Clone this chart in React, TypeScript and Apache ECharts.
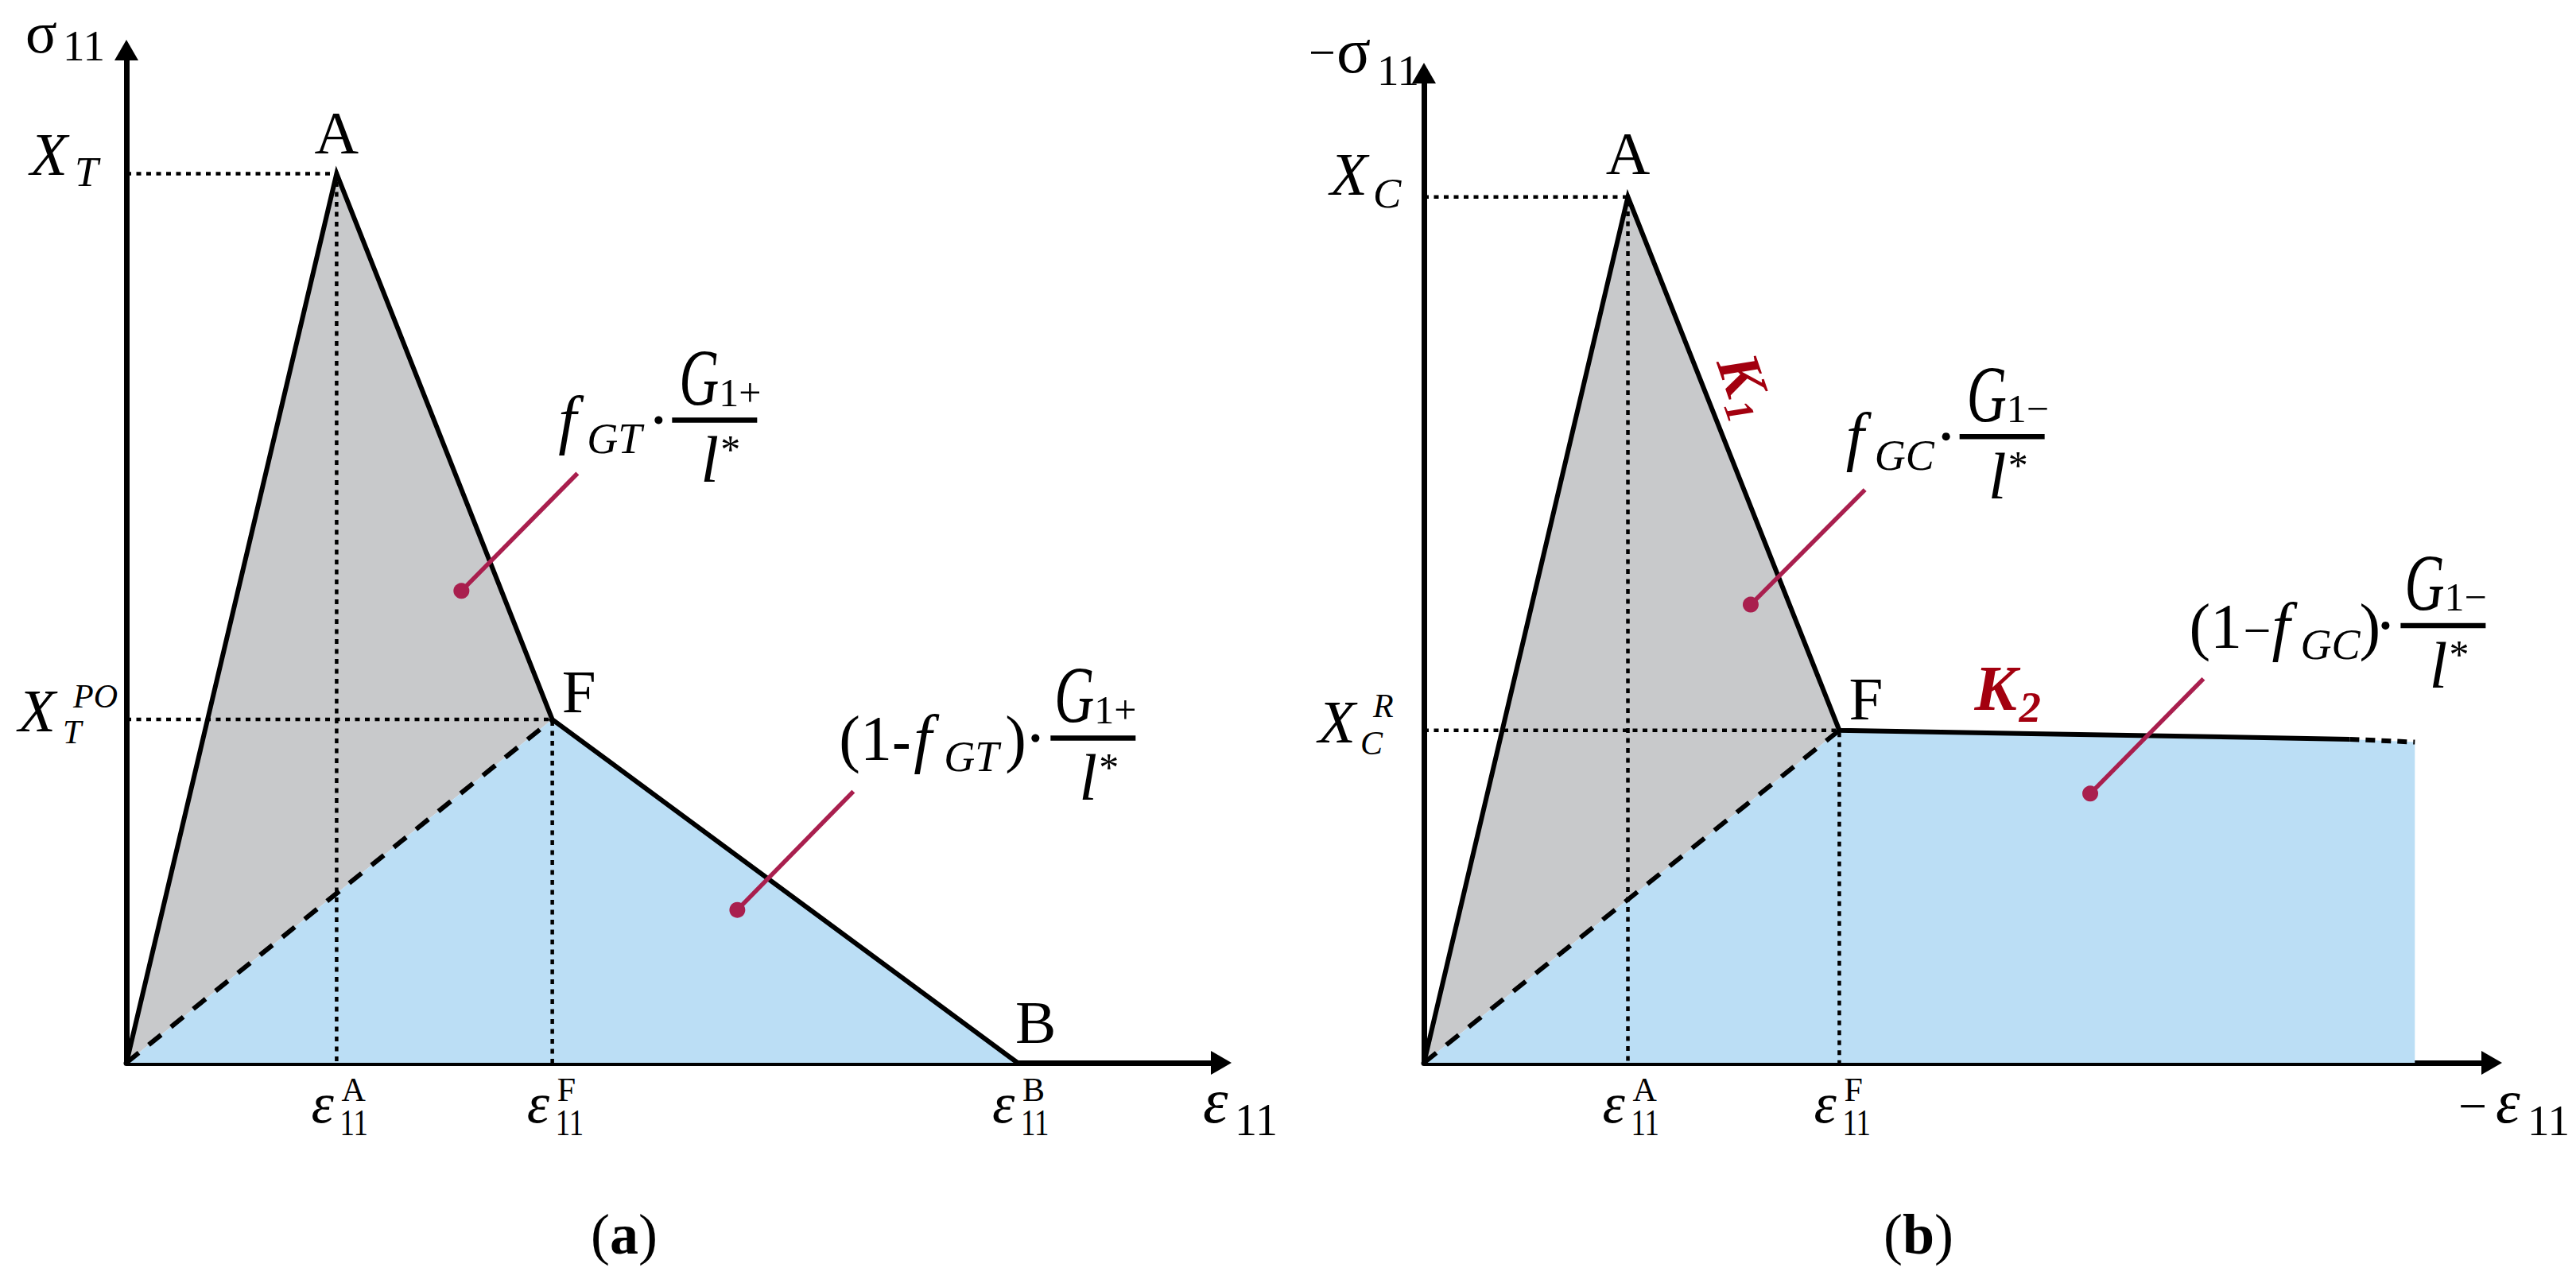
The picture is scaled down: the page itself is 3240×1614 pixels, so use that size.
import React, { useEffect, useRef } from "react";
import * as echarts from "echarts";

const SERIF = '"Liberation Serif", "Times New Roman", serif';
const GREY = "#c8c9cb";
const BLUE = "#bbdef5";
const LEADER = "#a91f4e";
const KRED = "#a3000f";

const axisMax = 10;

// (a) tension: O, A, F, B  (strain, stress)
const tensionStrain = [0, 1.92, 3.89, 8.14];
const tensionStress = [0, 8.78, 3.39, 0];
const tensionDots = [[3.06, 4.66], [5.58, 1.51]];
const tensionLeaderEnds = [[4.12, 5.82], [6.64, 2.68]];

// (b) compression: O, A, F, end of solid K2 segment, end of dashed segment
const compStrain = [0, 1.91, 3.89, 8.67, 9.28];
const compStress = [0, 8.75, 3.36, 3.27, 3.24];
const compDots = [[3.06, 4.63], [6.24, 2.72]];
const compLeaderEnds = [[4.13, 5.79], [7.3, 3.88]];

const pts = (xs: number[], ys: number[]) => xs.map((x, i) => [x, ys[i]]);

function T(text: string, left: number, baseline: number, size: number, o: any = {}) {
  return {
    type: "text",
    x: left,
    y: baseline - 0.34 * size,
    scaleX: o.sx ?? 1,
    silent: true,
    style: {
      text,
      fontSize: size,
      fontFamily: SERIF,
      fontStyle: o.it ? "italic" : "normal",
      fontWeight: o.b ? "bold" : "normal",
      fill: o.fill || "#000",
      align: o.align || "left",
      verticalAlign: "middle",
    },
  };
}
const dotC = (cx: number, cy: number, r: number, fill: string) => ({
  type: "circle", silent: true, shape: { cx, cy, r }, style: { fill },
});
const seg = (x1: number, y1: number, x2: number, y2: number, w: number, stroke: string) => ({
  type: "line", silent: true, shape: { x1, y1, x2, y2 }, style: { stroke, lineWidth: w },
});
const Gsym = (left: number, baseline: number) => T("G", left, baseline, 102, { it: true, sx: 0.68 });

function inlineFormula(ax: number, ay: number, sub: string, numSub: string) {
  return [
    T("f", ax - 24, ay - 40, 82, { it: true }),
    T(sub, ax + 12, ay - 25, 54, { it: true }),
    dotC(ax + 102, ay - 67, 5, "#000"),
    seg(ax + 119, ay - 67, ax + 226, ay - 67, 6.5, "#000"),
    Gsym(ax + 128, ay - 85),
    T(numSub, ax + 178, ay - 85, 50),
    T("l", ax + 155, ay + 11, 82, { it: true }),
    T("*", ax + 180, ay - 14, 50),
  ];
}
function parenFormula(ax: number, ay: number, sub: string, numSub: string, minus: boolean) {
  return [
    T("(1", ax - 18, ay - 39, 80),
    minus ? T("−", ax + 50, ay - 40, 62) : T("-", ax + 49, ay - 39, 70, { b: true }),
    T("f", ax + (minus ? 86 : 76), ay - 39, 82, { it: true }),
    T(sub, ax + (minus ? 122 : 114), ay - 25, 54, { it: true }),
    T(")", ax + (minus ? 196 : 191), ay - 39, 80),
    dotC(ax + 229, ay - 67, 5, "#000"),
    seg(ax + 248, ay - 67, ax + 355, ay - 67, 6.5, "#000"),
    Gsym(ax + 253, ay - 86),
    T(numSub, ax + 303, ay - 86, 50),
    T("l", ax + 284, ay + 11, 82, { it: true }),
    T("*", ax + 309, ay - 14, 50),
  ];
}
function epsTick(x: number, y0: number, sup: string) {
  return [
    T("ε", x - 32, y0 + 75, 72, { it: true }),
    T("11", x + 4, y0 + 91, 46, { sx: 0.8 }),
    T(sup, x + 6, y0 + 48, 42),
  ];
}
function caption(cx: number, baseline: number, letter: string) {
  return {
    type: "text", x: cx, y: baseline - 0.34 * 72, silent: true,
    style: {
      text: "{p|(}{b|" + letter + "}{p|)}",
      fontSize: 72, fontFamily: SERIF, fill: "#000", align: "center", verticalAlign: "middle",
      rich: {
        p: { fontSize: 72, fontFamily: SERIF, fill: "#000" },
        b: { fontSize: 72, fontFamily: SERIF, fontWeight: "bold", fill: "#000" },
      },
    },
  };
}

function polygonSeries(g: number, verts: number[][], fill: string) {
  return {
    type: "custom", coordinateSystem: "cartesian2d", xAxisIndex: g, yAxisIndex: g,
    data: [verts[0]], silent: true, z: 1, clip: false,
    renderItem: (_p: any, api: any) => ({
      type: "polygon", shape: { points: verts.map((v) => api.coord(v)) }, style: { fill },
    }),
  };
}
function lineSeries(g: number, data: number[][], width: number, type: any, z: number) {
  return {
    type: "line", xAxisIndex: g, yAxisIndex: g, data, symbol: "none", silent: true, z, clip: false,
    lineStyle: { color: "#000", width, type, cap: "butt", join: "miter" },
  };
}
function axis(g: number) {
  return {
    type: "value", gridIndex: g, min: 0, max: axisMax,
    axisLine: { show: true, symbol: ["none", "triangle"], symbolSize: [30, 26], lineStyle: { color: "#000", width: 7 } },
    axisTick: { show: false }, axisLabel: { show: false }, splitLine: { show: false },
  };
}

const DOT = [6, 6.5];

export default function App() {
  const ref = useRef<HTMLDivElement>(null);
  useEffect(() => {
    document.body.style.margin = "0";
    const chart = echarts.init(ref.current!, null, { renderer: "svg" });
    const tP = pts(tensionStrain, tensionStress);
    const cP = pts(compStrain, compStress);
    const [tO, tA, tF, tB] = tP;
    const [cO, cA, cF, cS, cE] = cP;

    const labelsA = {
      type: "custom", coordinateSystem: "cartesian2d", xAxisIndex: 0, yAxisIndex: 0,
      data: [[0, 0]], silent: true, z: 5, clip: false,
      renderItem: (_p: any, api: any) => {
        const c = (p: number[]) => api.coord(p);
        const O = c(tO), A = c(tA), F = c(tF), B = c(tB);
        const top = c([0, axisMax]), xe = c([axisMax, 0]);
        const ch: any[] = [];
        tensionDots.forEach((d, i) => {
          const p = c(d), q = c(tensionLeaderEnds[i]);
          ch.push(seg(p[0], p[1], q[0], q[1], 5.5, LEADER), dotC(p[0], p[1], 10, LEADER));
        });
        const e1 = c(tensionLeaderEnds[0]), e2 = c(tensionLeaderEnds[1]);
        ch.push(...inlineFormula(e1[0], e1[1], "GT", "1+"));
        ch.push(...parenFormula(e2[0], e2[1], "GT", "1+", false));
        ch.push(T("σ", top[0] - 127, top[1] + 3, 74), T("11", top[0] - 80, top[1] + 13, 55));
        ch.push(T("X", O[0] - 121, A[1] + 2, 77, { it: true }), T("T", O[0] - 65, A[1] + 16, 53, { it: true }));
        ch.push(T("X", O[0] - 136, F[1] + 15, 77, { it: true }), T("T", O[0] - 80, F[1] + 30, 42, { it: true }), T("PO", O[0] - 67, F[1] - 15, 42, { it: true }));
        ch.push(T("A", A[0], A[1] - 25, 77, { align: "center" }));
        ch.push(T("F", F[0] + 12, F[1] - 9, 77));
        ch.push(T("B", B[0] - 3, B[1] - 25, 77));
        ch.push(...epsTick(A[0], O[1], "A"), ...epsTick(F[0], O[1], "F"), ...epsTick(B[0], O[1], "B"));
        ch.push(T("ε", xe[0] - 23, O[1] + 75, 80, { it: true }), T("11", xe[0] + 17, O[1] + 91, 56));
        ch.push(caption(O[0] + 626, O[1] + 240, "a"));
        return { type: "group", children: ch };
      },
    };

    const labelsB = {
      type: "custom", coordinateSystem: "cartesian2d", xAxisIndex: 1, yAxisIndex: 1,
      data: [[0, 0]], silent: true, z: 5, clip: false,
      renderItem: (_p: any, api: any) => {
        const c = (p: number[]) => api.coord(p);
        const O = c(cO), A = c(cA), F = c(cF);
        const top = c([0, axisMax]), xe = c([axisMax, 0]);
        const ch: any[] = [];
        compDots.forEach((d, i) => {
          const p = c(d), q = c(compLeaderEnds[i]);
          ch.push(seg(p[0], p[1], q[0], q[1], 5.5, LEADER), dotC(p[0], p[1], 10, LEADER));
        });
        const e1 = c(compLeaderEnds[0]), e2 = c(compLeaderEnds[1]);
        ch.push(...inlineFormula(e1[0], e1[1], "GC", "1−"));
        ch.push(...parenFormula(e2[0], e2[1], "GC", "1−", true));
        ch.push(T("−", top[0] - 145, top[1] - 6, 60), T("σ", top[0] - 110, top[1] - 1, 80), T("11", top[0] - 59, top[1] + 15, 55));
        ch.push(T("X", O[0] - 118, A[1] - 2, 77, { it: true }), T("C", O[0] - 64, A[1] + 13, 53, { it: true }));
        ch.push(T("X", O[0] - 133, F[1] + 15, 77, { it: true }), T("C", O[0] - 80, F[1] + 31, 42, { it: true }), T("R", O[0] - 64, F[1] - 16, 42, { it: true }));
        ch.push(T("A", A[0], A[1] - 28, 77, { align: "center" }));
        ch.push(T("F", F[0] + 12, F[1] - 14, 77));
        ch.push({
          type: "group", x: A[0] + 144, y: A[1] + 224, rotation: -1.24, silent: true,
          children: [
            { type: "text", x: 0, y: 0, style: { text: "K", fontSize: 76, fontStyle: "italic", fontWeight: "bold", fontFamily: SERIF, fill: KRED, align: "center", verticalAlign: "middle" } },
            { type: "text", x: 42, y: 18, style: { text: "1", fontSize: 50, fontStyle: "italic", fontWeight: "bold", fontFamily: SERIF, fill: KRED, align: "center", verticalAlign: "middle" } },
          ],
        });
        ch.push(T("K", F[0] + 170, F[1] - 25, 80, { it: true, b: true, fill: KRED }), T("2", F[0] + 226, F[1] - 10, 55, { it: true, b: true, fill: KRED }));
        ch.push(...epsTick(A[0], O[1], "A"), ...epsTick(F[0], O[1], "F"));
        ch.push(T("−", xe[0] - 42, O[1] + 76, 64), T("ε", xe[0] + 5, O[1] + 75, 78, { it: true }), T("11", xe[0] + 45, O[1] + 91, 55));
        ch.push(caption(O[0] + 622, O[1] + 240, "b"));
        return { type: "group", children: ch };
      },
    };

    chart.setOption({
      animation: false,
      backgroundColor: "#fff",
      grid: [
        { left: 159, top: 63, width: 1377, height: 1274 },
        { left: 1791, top: 92, width: 1343, height: 1245 },
      ],
      xAxis: [axis(0), axis(1)],
      yAxis: [axis(0), axis(1)],
      series: [
        polygonSeries(0, [tO, tA, tF], GREY),
        polygonSeries(0, [tO, tF, tB], BLUE),
        lineSeries(0, [[0, tA[1]], tA, [tA[0], 0]], 4.5, DOT, 2),
        lineSeries(0, [[0, tF[1]], tF, [tF[0], 0]], 4.5, DOT, 2),
        lineSeries(0, [tO, tF], 6, [20, 16], 3),
        lineSeries(0, [tO, tA, tF, tB], 6, "solid", 4),
        labelsA,
        polygonSeries(1, [cO, cA, cF], GREY),
        polygonSeries(1, [cO, cF, cS, cE, [cE[0], 0]], BLUE),
        lineSeries(1, [[0, cA[1]], cA, [cA[0], 0]], 4.5, DOT, 2),
        lineSeries(1, [[0, cF[1]], cF, [cF[0], 0]], 4.5, DOT, 2),
        lineSeries(1, [cO, cF], 6, [20, 16], 3),
        lineSeries(1, [cO, cA, cF, cS], 6, "solid", 4),
        lineSeries(1, [cS, cE], 6, [12, 8], 4),
        labelsB,
      ],
    });
    return () => chart.dispose();
  }, []);
  return <div ref={ref} style={{ width: 3240, height: 1614, background: "#fff" }} />;
}
